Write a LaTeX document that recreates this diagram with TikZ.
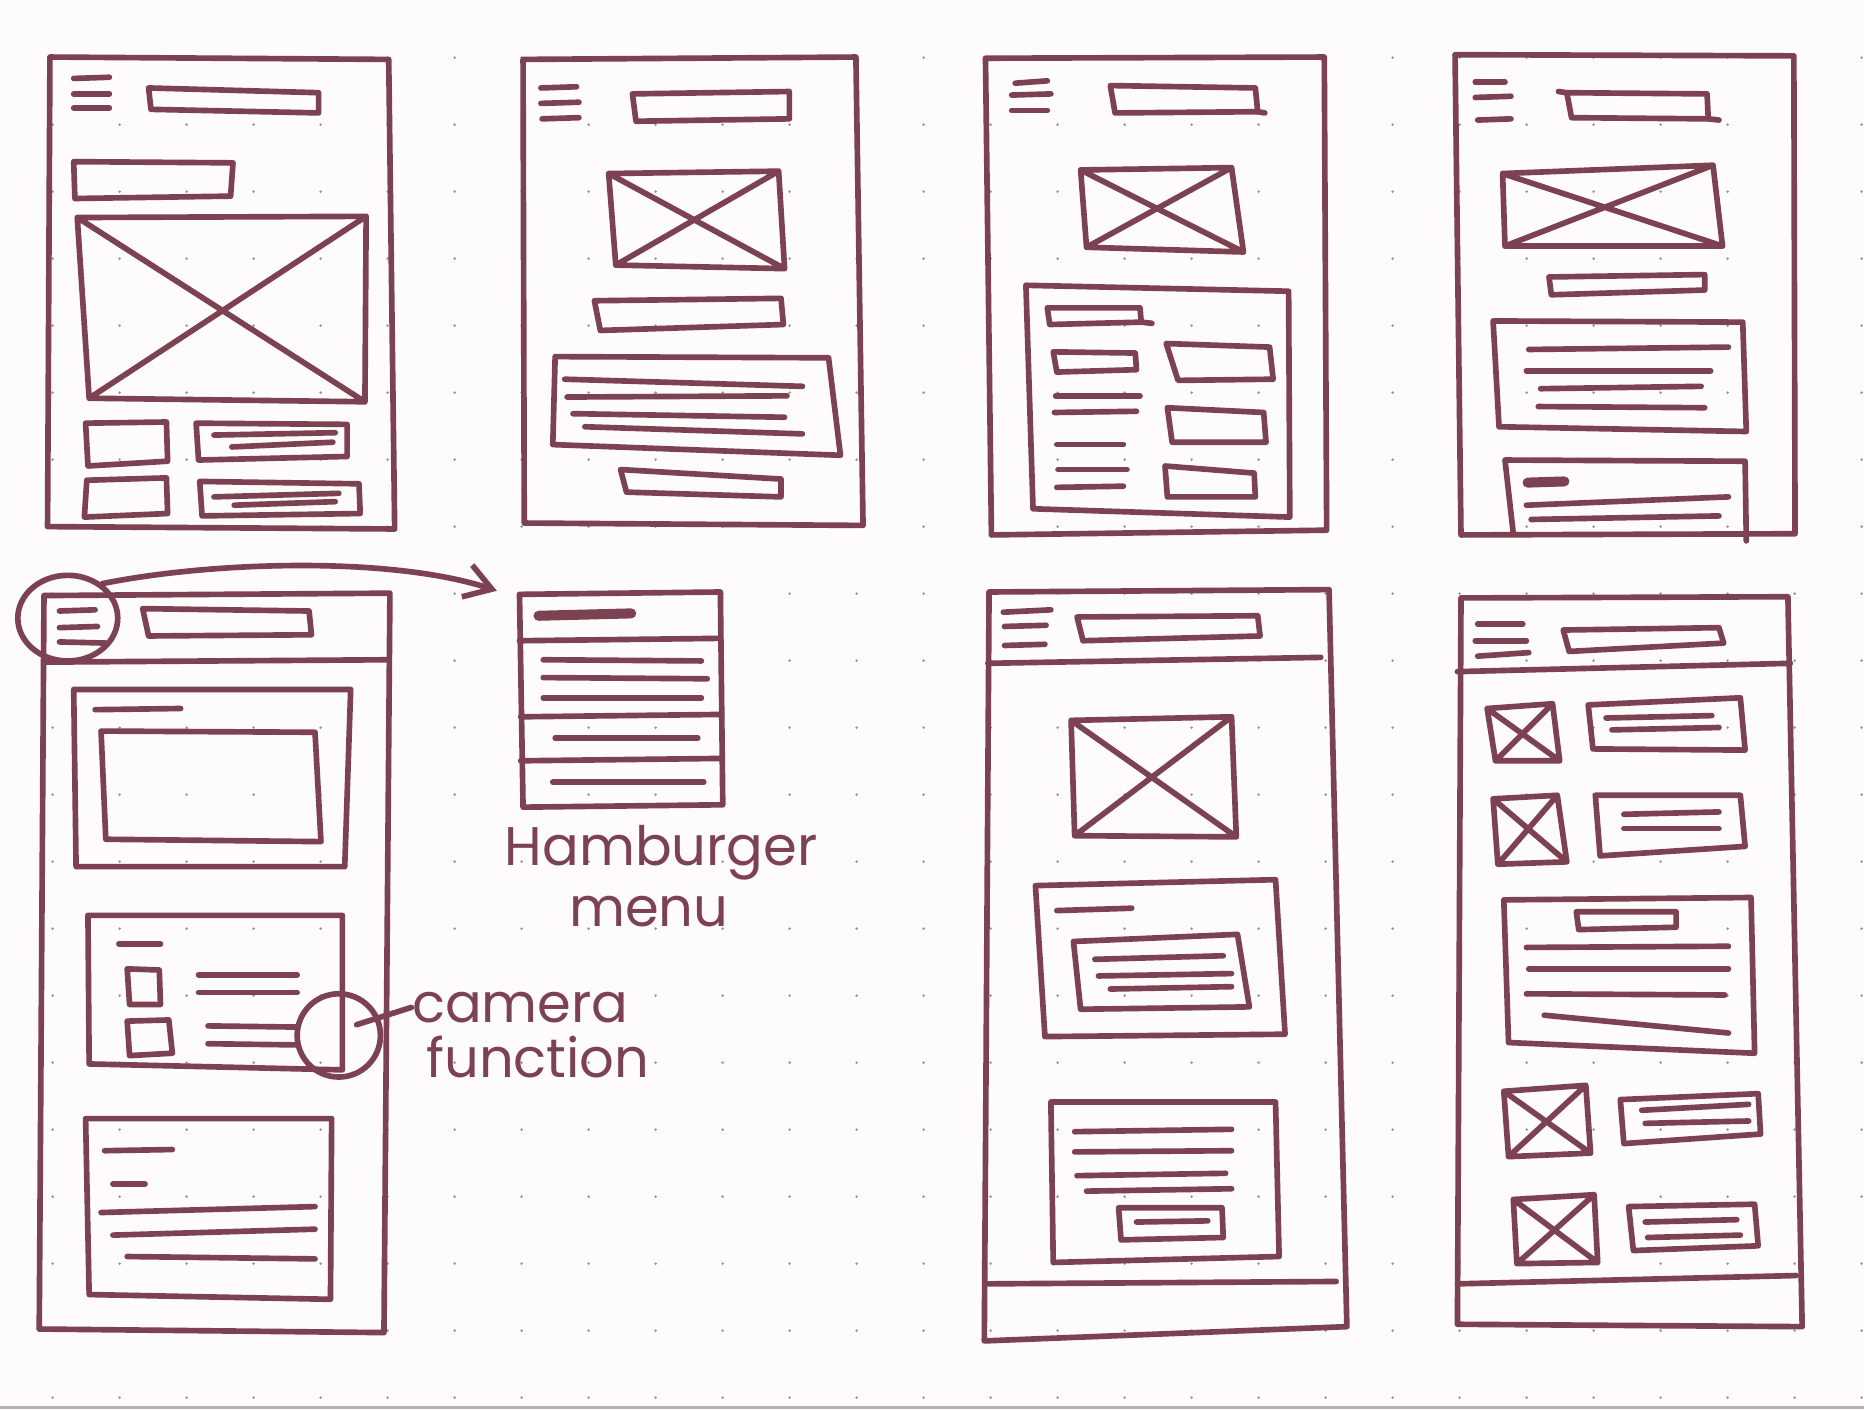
\documentclass[tikz,border=0pt]{standalone}
\usepackage{fontspec}
\usetikzlibrary{arrows.meta,shapes.geometric}
\newfontfamily\hand{Poppins}
\definecolor{ink}{RGB}{124,66,82}
\definecolor{paper}{RGB}{253,251,252}
\definecolor{dotgray}{RGB}{150,145,148}
% quadrilateral box from four corners (TL, TR, BR, BL)
\newcommand\qd[4]{\draw[inkpen] #1 -- #2 -- #3 -- #4 -- cycle;}
% image placeholder: box with both diagonals
\newcommand\qx[4]{\draw[inkpen] #1 -- #2 -- #3 -- #4 -- cycle #1 -- #3 #2 -- #4;}
% single pen stroke
\newcommand\inkline[2]{\draw[inkpen] #1 -- #2;}
\tikzset{
  inkpen/.style={draw=ink, line width=1.35pt, line cap=round, line join=round},
  fatpen/.style={inkpen, line width=2.4pt},
  note/.style={text=ink, inner sep=0pt, font=\hand\fontsize{13}{15}\selectfont, anchor=base west},
}
\begin{document}
\begin{tikzpicture}[x=0.01cm, y=-0.01cm]
\useasboundingbox (0,0) rectangle (1568,1186);
\fill[paper] (0,0) rectangle (1568,1186);
% dotted paper grid
\foreach \i in {0,...,27}
  \foreach \j in {0,...,20}
    \fill[dotgray] ({44.3+56.36*\i},{48.5+56.36*\j}) circle[radius=0.012cm];
\draw[dotgray!70, line width=0.6pt] (0,1184) -- (1568,1184);

% ---------- screen 1 ----------
\qd{(42,48)}{(327,50)}{(332,445)}{(40,443)}
\inkline{(62,66)}{(92,65)} \inkline{(62,79)}{(92,79)} \inkline{(62,91)}{(92,91)}
\qd{(125,74)}{(268,78)}{(268,95)}{(127,92)}
\qd{(62,136)}{(196,137)}{(194,165)}{(63,167)}
\qx{(65,183)}{(308,182)}{(307,338)}{(75,335)}
\qd{(72,356)}{(140,355)}{(141,388)}{(74,392)}
\qd{(165,356)}{(292,357)}{(292,384)}{(167,387)}
\inkline{(180,366)}{(282,364)} \inkline{(195,376)}{(280,372)}
\qd{(73,404)}{(140,402)}{(141,432)}{(71,435)}
\qd{(168,405)}{(302,407)}{(303,432)}{(170,434)}
\inkline{(180,418)}{(285,415)} \inkline{(197,425)}{(282,422)}

% ---------- screen 2 ----------
\qd{(440,50)}{(720,48)}{(726,442)}{(441,440)}
\inkline{(455,74)}{(485,73)} \inkline{(455,87)}{(487,86)} \inkline{(456,100)}{(487,99)}
\qd{(532,79)}{(664,77)}{(664,100)}{(535,102)}
\qx{(512,146)}{(655,144)}{(660,226)}{(518,223)}
\qd{(500,253)}{(657,251)}{(659,273)}{(505,278)}
\qd{(467,300)}{(697,301)}{(707,383)}{(465,374)}
\inkline{(475,319)}{(675,325)} \inkline{(477,334)}{(662,333)}
\inkline{(482,348)}{(660,351)} \inkline{(492,359)}{(675,365)}
\qd{(522,395)}{(657,403)}{(657,418)}{(527,414)}

% ---------- screen 3 ----------
\qd{(829,49)}{(1114,48)}{(1116,446)}{(834,450)}
\inkline{(854,70)}{(881,68)} \inkline{(851,80)}{(884,79)} \inkline{(851,93)}{(881,93)}
\qd{(934,72)}{(1056,74)}{(1058,94)}{(938,95)}
\inkline{(1058,94)}{(1064,95)}
\qx{(909,143)}{(1036,141)}{(1046,212)}{(914,208)}
\qd{(863,240)}{(1084,245)}{(1085,435)}{(869,428)}
\qd{(881,259)}{(959,259)}{(960,271)}{(883,273)}
\inkline{(960,271)}{(969,272)}
\qd{(886,296)}{(955,297)}{(956,311)}{(889,313)}
\inkline{(888,333)}{(959,333)} \inkline{(887,347)}{(956,346)}
\inkline{(889,374)}{(945,374)} \inkline{(890,395)}{(948,395)} \inkline{(889,410)}{(945,409)}
\qd{(981,289)}{(1068,292)}{(1071,319)}{(991,320)}
\qd{(982,343)}{(1063,347)}{(1065,372)}{(986,372)}
\qd{(980,392)}{(1055,398)}{(1056,418)}{(982,418)}

% ---------- screen 4 ----------
\qd{(1224,46)}{(1509,47)}{(1510,449)}{(1229,450)}
\inkline{(1241,69)}{(1266,69)} \inkline{(1241,82)}{(1271,81)} \inkline{(1243,101)}{(1271,100)}
\qd{(1318,78)}{(1436,79)}{(1437,100)}{(1322,99)}
\inkline{(1311,77)}{(1318,78)} \inkline{(1437,100)}{(1446,101)}
\qx{(1264,146)}{(1441,139)}{(1449,207)}{(1266,207)}
\qd{(1303,233)}{(1434,231)}{(1434,244)}{(1305,248)}
\qd{(1256,270)}{(1466,271)}{(1469,363)}{(1261,359)}
\inkline{(1286,294)}{(1454,292)} \inkline{(1284,312)}{(1439,312)}
\inkline{(1296,327)}{(1431,325)} \inkline{(1294,342)}{(1434,343)}
\draw[inkpen] (1273,449) -- (1266,387) -- (1468,388) -- (1469,455);
\draw[fatpen] (1285,406) -- (1316,405);
\inkline{(1284,425)}{(1454,418)} \inkline{(1288,437)}{(1446,434)}

% ---------- screen 5 (with annotations) ----------
\qd{(37,501)}{(328,499)}{(323,1121)}{(33,1118)}
\inkline{(37,557)}{(327,555)}
\inkline{(50,514)}{(80,513)} \inkline{(50,528)}{(82,527)} \inkline{(50,540)}{(90,541)}
\qd{(120,512)}{(260,514)}{(262,534)}{(125,535)}
\qd{(62,580)}{(295,580)}{(290,729)}{(64,729)}
\inkline{(80,597)}{(152,596)}
\qd{(85,615)}{(265,616)}{(270,708)}{(89,706)}
\qd{(74,770)}{(288,770)}{(288,900)}{(75,895)}
\inkline{(100,794)}{(135,794)}
\qd{(107,815)}{(134,816)}{(135,845)}{(109,845)}
\qd{(107,859)}{(142,858)}{(145,886)}{(109,888)}
\inkline{(167,820)}{(250,820)} \inkline{(167,835)}{(250,835)}
\inkline{(175,863)}{(250,864)} \inkline{(175,878)}{(250,879)}
\qd{(72,941)}{(279,941)}{(278,1093)}{(75,1089)}
\inkline{(88,968)}{(145,967)} \inkline{(95,996)}{(122,996)}
\inkline{(85,1020)}{(265,1015)} \inkline{(95,1039)}{(265,1034)} \inkline{(107,1057)}{(265,1059)}

% hamburger menu panel
\qd{(437,500)}{(606,498)}{(608,677)}{(440,679)}
\draw[fatpen] (453,518) -- (531,516);
\inkline{(437,539)}{(606,537)} \inkline{(438,603)}{(607,601)} \inkline{(438,640)}{(607,638)}
\inkline{(457,555)}{(590,556)} \inkline{(457,570)}{(595,571)} \inkline{(457,587)}{(590,587)}
\inkline{(467,621)}{(587,621)} \inkline{(465,658)}{(592,658)}

% callouts
\node[ellipse, inkpen, minimum width=0.84cm, minimum height=0.72cm, inner sep=0pt] (burgerring) at (57,520) {};
\coordinate (menutip) at (418,497);
\draw[inkpen, -{Straight Barb[length=2.2mm, width=2.8mm, line width=1.35pt]}]
  (burgerring.45) .. controls (180,472) and (330,468) .. (menutip);
\node[note] (hamword) at (424,728) {Hamburger};
\node[note] (menuword) at (478,779) {menu};

\node[circle, inkpen, minimum size=0.7cm, inner sep=0pt] (camring) at (285,871) {};
\node[note] (camword) at (346,860) {camera};
\node[note] (funcword) at (358,906) {function};
\coordinate (camtick) at (300,862);
\draw[inkpen] (camtick) -- (camword.west);

% ---------- screen 6 ----------
\qd{(832,498)}{(1118,496)}{(1133,1116)}{(828,1128)}
\inkline{(831,558)}{(1111,553)}
\inkline{(831,1080)}{(1124,1078)}
\inkline{(844,515)}{(884,513)} \inkline{(845,527)}{(880,526)} \inkline{(845,543)}{(879,542)}
\qd{(906,519)}{(1058,518)}{(1060,535)}{(911,539)}
\qx{(901,606)}{(1036,603)}{(1040,704)}{(904,703)}
\qd{(871,745)}{(1073,740)}{(1081,870)}{(879,872)}
\inkline{(889,766)}{(952,764)}
\qd{(903,792)}{(1041,786)}{(1051,847)}{(909,849)}
\inkline{(921,807)}{(1029,804)} \inkline{(924,821)}{(1036,819)} \inkline{(934,832)}{(1036,830)}
\qd{(884,927)}{(1073,927)}{(1076,1057)}{(886,1062)}
\inkline{(904,952)}{(1036,950)} \inkline{(904,969)}{(1036,968)}
\inkline{(906,989)}{(1031,987)} \inkline{(914,1002)}{(1036,1000)}
\qd{(941,1016)}{(1028,1016)}{(1029,1041)}{(943,1043)}
\inkline{(956,1028)}{(1016,1027)}

% ---------- screen 7 ----------
\qd{(1229,503)}{(1504,502)}{(1516,1116)}{(1226,1114)}
\inkline{(1226,565)}{(1506,558)}
\inkline{(1226,1080)}{(1511,1073)}
\inkline{(1243,525)}{(1281,525)} \inkline{(1241,539)}{(1284,539)} \inkline{(1243,552)}{(1286,549)}
\qd{(1315,530)}{(1446,528)}{(1450,541)}{(1320,548)}
\qx{(1251,596)}{(1306,592)}{(1312,640)}{(1258,640)}
\qd{(1336,593)}{(1464,587)}{(1468,631)}{(1340,630)}
\inkline{(1351,604)}{(1440,602)} \inkline{(1356,614)}{(1446,612)}
\qx{(1256,672)}{(1310,669)}{(1318,725)}{(1260,727)}
\qd{(1342,669)}{(1464,669)}{(1468,712)}{(1346,720)}
\inkline{(1366,685)}{(1446,683)} \inkline{(1366,697)}{(1446,697)}
\qd{(1265,757)}{(1473,755)}{(1476,886)}{(1269,877)}
\qd{(1326,767)}{(1410,767)}{(1410,780)}{(1328,782)}
\inkline{(1284,797)}{(1454,796)} \inkline{(1286,815)}{(1454,815)}
\inkline{(1284,836)}{(1451,837)} \inkline{(1299,854)}{(1454,869)}
\qx{(1265,918)}{(1334,913)}{(1338,970)}{(1269,973)}
\qd{(1363,925)}{(1479,920)}{(1481,954)}{(1366,962)}
\inkline{(1381,934)}{(1471,929)} \inkline{(1384,945)}{(1471,943)}
\qx{(1273,1009)}{(1341,1005)}{(1344,1062)}{(1276,1063)}
\qd{(1370,1015)}{(1476,1013)}{(1479,1048)}{(1374,1052)}
\inkline{(1384,1028)}{(1461,1026)} \inkline{(1386,1041)}{(1464,1039)}
\end{tikzpicture}
\end{document}
